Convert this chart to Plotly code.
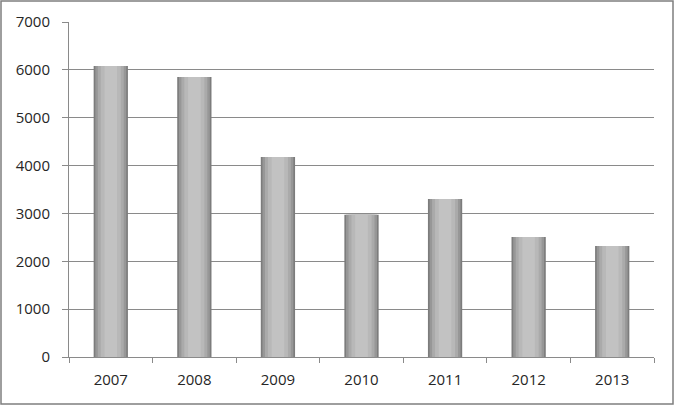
import plotly.graph_objects as go

years = ['2007', '2008', '2009', '2010', '2011', '2012', '2013']
values = [6080, 5850, 4180, 2970, 3300, 2510, 2320]
y_ticks = [0, 1000, 2000, 3000, 4000, 5000, 6000, 7000]

fig = go.Figure()

# fake the shaded Excel bars by stacking narrower, lighter bars on top of each other
shades = [
    (0.41, '#7c7c7c'),
    (0.37, '#979797'),
    (0.31, '#aaaaaa'),
    (0.24, '#b8b8b8'),
    (0.15, '#c2c2c2'),
]
for width, color in shades:
    fig.add_trace(go.Bar(
        x=years,
        y=values,
        width=width,
        marker=dict(color=color, line=dict(width=0)),
        hoverinfo='skip',
        showlegend=False,
    ))

fig.update_layout(
    width=674,
    height=405,
    barmode='overlay',
    plot_bgcolor='white',
    paper_bgcolor='white',
    margin=dict(l=69, r=20, t=22, b=48, autoexpand=False),
    font=dict(family='Open Sans, Lato, sans-serif', size=15, color='#262626'),
    showlegend=False,
)

fig.update_xaxes(
    type='category',
    automargin=False,
    showgrid=False,
    showline=True,
    linecolor='#8a8a8a',
    linewidth=1,
    ticks='outside',
    tickson='boundaries',
    ticklen=5,
    tickcolor='#8a8a8a',
    ticklabelstandoff=9,
)

fig.update_yaxes(
    range=[0, 7000],
    tickvals=y_ticks,
    automargin=False,
    showgrid=True,
    gridcolor='#8a8a8a',
    gridwidth=1,
    showline=True,
    linecolor='#8a8a8a',
    linewidth=1,
    ticks='outside',
    ticklen=6,
    tickcolor='#8a8a8a',
    ticklabelstandoff=9,
    zeroline=False,
)

# outer border of the chart area
fig.add_shape(
    type='rect', xref='paper', yref='paper',
    x0=-68 / 585, x1=1 + 19 / 585, y0=-47 / 335, y1=1 + 21 / 335,
    line=dict(color='#7f7f7f', width=1.5),
)

# drop the default page margin so the figure sits at the window's corner
fig.write_html("out.html", config={'displayModeBar': False},
               post_script="document.body.style.margin='0';")
